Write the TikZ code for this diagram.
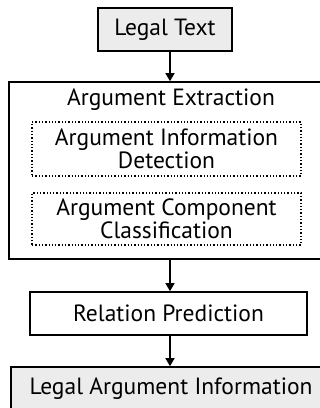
\documentclass[tikz,border=0pt]{standalone}
\usepackage{fontspec}
\setmainfont{PT Sans}
\usetikzlibrary{arrows.meta, positioning, calc}
\definecolor{boxgray}{RGB}{236, 236, 236}
\tikzstyle{arrow} = [line width=1.3pt,-{Triangle[width=9pt,length=8pt]}]
\tikzstyle{stepbox} = [draw, line width=1.6pt, rectangle, inner sep=0pt, align=center]
\tikzstyle{subbox} = [draw, line width=1.3pt, dotted, rectangle, inner sep=0pt, align=center]

\begin{document}
\begin{tikzpicture}[x=1pt, y=-1pt, font=\fontsize{23.5}{23}\selectfont]
\useasboundingbox (0,0) rectangle (320,408);
\clip (0,0) rectangle (320,408);

% Input
\node[stepbox, fill=boxgray, minimum width=134pt, minimum height=43pt] (legal) at (165,29.5) {Legal Text};

% Argument extraction block
\node[stepbox, minimum width=322pt, minimum height=177pt] (extract) at (170,170.5) {};
\node (title) at (171,100) {Argument Extraction};
\node[subbox, minimum width=269pt, minimum height=54pt] (detect) at (166.5,149) {Argument Information\\Detection};
\node[subbox, minimum width=269pt, minimum height=52pt] (classify) at (166.5,219) {Argument Component\\Classification};

% Relation step
\node[stepbox, minimum width=277pt, minimum height=43pt] (relation) at (168.5,313.5) {Relation Prediction};

% Output
\node[stepbox, fill=boxgray, minimum width=320pt, minimum height=44pt] (output) at (171,389) {Legal Argument Information};

% Arrows
\draw[arrow] (legal.south -| extract.north) -- (extract.north);
\draw[arrow] (extract.south) -- (relation.north -| extract.south);
\draw[arrow] (relation.south -| extract.south) -- (output.north -| extract.south);
\end{tikzpicture}
\end{document}
